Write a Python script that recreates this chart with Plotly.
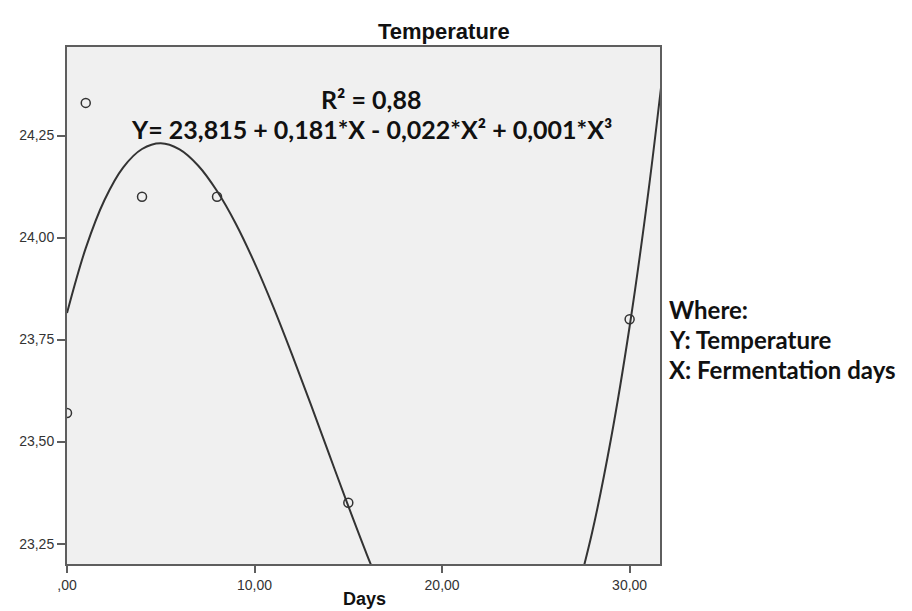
import plotly.graph_objects as go

# Observed data points
days = [0, 1, 4, 8, 15, 30]
temps = [23.57, 24.33, 24.10, 24.10, 23.35, 23.80]

# Fitted cubic curve (visible parts, gap where it leaves the plot)
curve_x = [0, 1, 2, 3, 4, 5, 6, 7, 8, 9, 10, 11, 12, 13, 14, 15, 16, 17,
           None,
           27, 28, 29, 30, 31, 32]
curve_y = [23.815, 23.974, 24.092, 24.172, 24.217, 24.231, 24.216, 24.176, 24.114,
           24.034, 23.938, 23.830, 23.713, 23.591, 23.466, 23.342, 23.222, 23.109,
           None,
           23.096, 23.277, 23.505, 23.782, 24.112, 24.497]

x_tickvals = [0, 10, 20, 30]
x_ticktext = [",00", "10,00", "20,00", "30,00"]
y_tickvals = [23.25, 23.50, 23.75, 24.00, 24.25]
y_ticktext = ["23,25", "23,50", "23,75", "24,00", "24,25"]

title_text = "Temperature"
x_title = "Days"
r2_text = "R² = 0,88"
eq_text = "Y= 23,815 + 0,181*X - 0,022*X² + 0,001*X³"
where_lines = ["Where:", "Y: Temperature", "X: Fermentation days"]

fig = go.Figure()
fig.add_trace(go.Scatter(
    x=curve_x, y=curve_y, mode="lines", line=dict(color="#333333", width=2, shape="spline"),
    connectgaps=False, hoverinfo="skip", showlegend=False))
fig.add_trace(go.Scatter(
    x=days, y=temps, mode="markers",
    marker=dict(symbol="circle-open", size=9, color="#333333", line=dict(width=1.5)),
    showlegend=False))

axis_col = "#5e5e5e"
fig.update_xaxes(range=[0, 31.62], tickvals=x_tickvals, ticktext=x_ticktext,
                 showgrid=False, zeroline=False, showline=True, linecolor=axis_col, linewidth=2,
                 mirror=True, ticks="outside", ticklen=7, tickwidth=2, tickcolor=axis_col,
                 tickfont=dict(family="Liberation Sans, Arial", size=14, color="#333333"))
fig.update_yaxes(range=[23.20, 24.467], tickvals=y_tickvals, ticktext=y_ticktext,
                 showgrid=False, zeroline=False, showline=True, linecolor=axis_col, linewidth=2,
                 mirror=True, ticks="outside", ticklen=8, tickwidth=2, tickcolor=axis_col,
                 tickfont=dict(family="Liberation Sans, Arial", size=14, color="#333333"))

annotations = [
    dict(text=f"<b>{title_text}</b>", x=0.636, y=1.03, xref="paper", yref="paper",
         showarrow=False, xanchor="center", yanchor="middle",
         font=dict(family="Liberation Sans, Arial", size=22, color="#111111")),
    dict(text=f"<b>{x_title}</b>", x=0.501, y=-0.067, xref="paper", yref="paper",
         showarrow=False, xanchor="center", yanchor="middle",
         font=dict(family="Liberation Sans, Arial", size=18, color="#111111")),
    dict(text=f"<b>{r2_text}</b>", x=0.513, y=0.899, xref="paper", yref="paper",
         showarrow=False, xanchor="center", yanchor="middle",
         font=dict(family="Lato", size=25, color="#111111")),
    dict(text=f"<b>{eq_text}</b>", x=0.513, y=0.841, xref="paper", yref="paper",
         showarrow=False, xanchor="center", yanchor="middle",
         font=dict(family="Lato", size=25, color="#111111")),
]
where_y = [0.493, 0.435, 0.377]
for line, yy in zip(where_lines, where_y):
    annotations.append(dict(text=f"<b>{line}</b>", x=1.011, y=yy, xref="paper", yref="paper",
                            showarrow=False, xanchor="left", yanchor="middle",
                            font=dict(family="Lato", size=24, color="#111111")))

fig.update_layout(
    width=912, height=611,
    margin=dict(l=59, r=260, t=39, b=55),
    plot_bgcolor="#f0f0f0", paper_bgcolor="white",
    annotations=annotations,
)

fig.write_html("out.html")
